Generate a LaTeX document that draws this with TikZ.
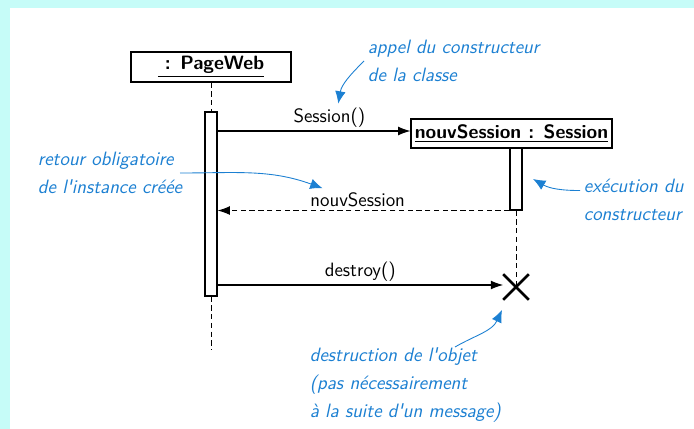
\documentclass[tikz,border=0pt]{standalone}
\usepackage{fontspec}
\usepackage{xcolor}
\usepackage{tikz}
\usetikzlibrary {arrows.meta,
                 calc,
                 positioning,
                 shapes.misc}
\definecolor{noteblue}{RGB}{28,128,210}
\definecolor{framecyan}{RGB}{198,252,248}
\tikzset{
        base/.style={draw, line width=0.6pt, align=center,
                     font=\fontsize{11}{13}\selectfont\sffamily},
        obj/.style={base, rectangle, font=\fontsize{11}{13}\selectfont\sffamily\bfseries,
                    inner sep=2pt},
        actbar/.style={draw, line width=0.6pt, fill=white, minimum width=0.24cm,
                       inner sep=0pt},
        lifeline/.style={densely dashed, line width=0.5pt},
        msg/.style={-{Latex[length=7pt, width=5pt]}, line width=0.6pt},
        retmsg/.style={msg, densely dashed},
        lbl/.style={font=\fontsize{11}{13}\selectfont\sffamily, inner sep=2pt},
        note/.style={font=\fontsize{11}{16}\selectfont\sffamily\itshape,
                     text=noteblue, align=left, inner sep=2pt},
        notearrow/.style={-{Latex[length=7pt, width=6pt]}, draw=noteblue,
                          line width=0.5pt},
        kill/.style={cross out, draw, line width=1.5pt, minimum size=0.46cm,
                     inner sep=0pt},
 }
\begin{document}
\begin{tikzpicture}[x=0.02cm, y=-0.02cm]
    \useasboundingbox (0,0) rectangle (694,429);
    \fill[framecyan] (0,0) rectangle (694,429);
    \fill[white] (10,8) rectangle (694,429);

    \node[obj, minimum width=3.2cm, minimum height=0.6cm] (pw) at (211,67)
         {\underline{\ : PageWeb}};
    \node[actbar, minimum height=3.68cm] (pwbar) at (211,204) {};
    \node[obj, minimum width=4.02cm, minimum height=0.58cm] (ns) at (511.5,133.5)
         {\underline{nouvSession : Session}};
    \node[actbar, minimum height=1.24cm] (nsbar) at (516,179) {};
    \node[kill] (x) at (516,287) {};
    \coordinate (pwend) at (211,350);

    \draw[lifeline] (pw) -- (pwbar);
    \draw[lifeline] (pwbar) -- (pwend);
    \draw[lifeline] (nsbar) -- (x.center);

    \draw[msg] (pwbar.east |- 0,131) -- node[lbl, above, pos=0.58] (l1) {Session()}
               (ns.west |- 0,131);
    \draw[retmsg] (nsbar.south west) -- node[lbl, above, pos=0.52] (l2) {nouvSession}
                  (pwbar.east |- nsbar.south);
    \draw[msg] (pwbar.east |- 0,285) -- node[lbl, above] (l3) {destroy()}
               (x.west |- 0,285);

    \node[note, anchor=west] (n1) at (364,61) {appel du constructeur\\ de la classe};
    \node[note, anchor=west] (n2) at (34,173)
         {retour obligatoire\\ de l\textquotesingle instance créée};
    \node[note, anchor=west] (n3) at (580,200) {exécution du\\ constructeur};
    \node[note, anchor=west] (n4) at (306,385)
         {destruction de l\textquotesingle objet\\ (pas nécessairement\\
          à la suite d\textquotesingle un message)};

    \draw[notearrow] (n1.west) to[out=225, in=80] ([xshift=5]l1.north);
    \draw[notearrow] (180,173) to[out=0, in=160] ([xshift=-20]l2.north);
    \draw[notearrow] (n3.170) to[out=180, in=-30] ([xshift=6]nsbar.east);
    \draw[notearrow] (455,347) to[out=30, in=-115] (502,310);

\end{tikzpicture}
\end{document}
